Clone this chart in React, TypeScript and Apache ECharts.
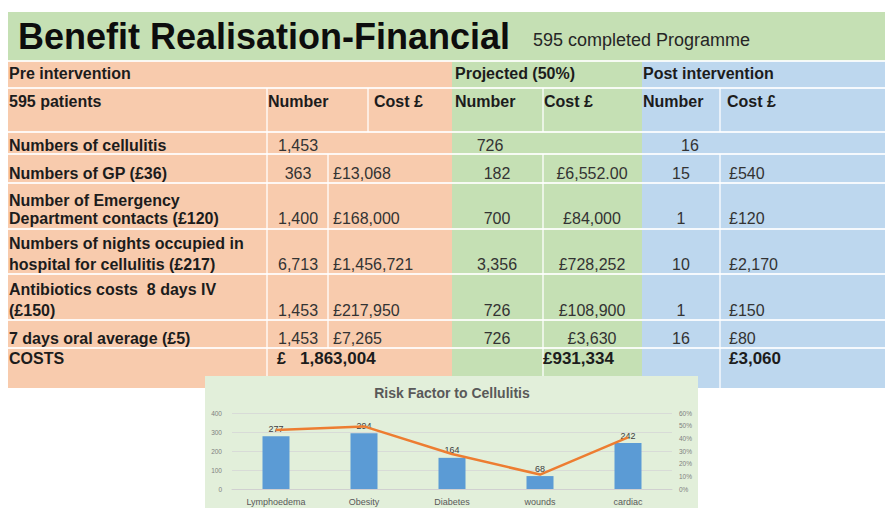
import React, { useEffect, useRef } from "react";
import * as echarts from "echarts";

// ---------- Table content ----------
const mainTitle = "Benefit Realisation-Financial";
const subTitle = "595 completed Programme";
const sectionHeaders = ["Pre intervention", "Projected (50%)", "Post intervention"];
const columnHeaders = ["595 patients", "Number", "Cost £", "Number", "Cost £", "Number", "Cost £"];
const rowLabels: string[][] = [
  ["Numbers of cellulitis"],
  ["Numbers of GP (£36)"],
  ["Number of Emergency", "Department contacts (£120)"],
  ["Numbers of nights occupied in", "hospital for cellulitis (£217)"],
  ["Antibiotics costs  8 days IV", "(£150)"],
  ["7 days oral average (£5)"],
];
const preNumbers = ["1,453", "363", "1,400", "6,713", "1,453", "1,453"];
const preCosts = ["", "£13,068", "£168,000", "£1,456,721", "£217,950", "£7,265"];
const projNumbers = ["726", "182", "700", "3,356", "726", "726"];
const projCosts = ["", "£6,552.00", "£84,000", "£728,252", "£108,900", "£3,630"];
const postNumbers = ["16", "15", "1", "10", "1", "16"];
const postCosts = ["", "£540", "£120", "£2,170", "£150", "£80"];
const totalLabel = "COSTS";
const preTotalSymbol = "£";
const preTotal = "1,863,004";
const projTotal = "£931,334";
const postTotal = "£3,060";

// ---------- Chart content ----------
const chartTitle = "Risk Factor to Cellulitis";
const riskFactors = ["Lymphoedema", "Obesity", "Diabetes", "wounds", "cardiac"];
const riskCounts = [277, 294, 164, 68, 242];
const riskShare = [0.466, 0.494, 0.276, 0.114, 0.407];
const countTicks = ["0", "100", "200", "300", "400"];
const shareTicks = ["0%", "10%", "20%", "30%", "40%", "50%", "60%"];

// ---------- Layout ----------
const FONT = "'Liberation Sans', Arial, Helvetica, sans-serif";
const ORANGE = "#f8cbad";
const GREEN = "#c5e0b4";
const BLUE = "#bdd7ee";
const CHART_BG = "#e2efda";
const LINE = "rgba(255,255,255,0.85)";

const TABLE_LEFT = 8;
const TABLE_RIGHT = 885;
const PROJ_X = 452;
const POST_X = 642;
const HEAD1_TOP = 61;
const HEAD2_TOP = 88;
const rowTops = [132, 154, 183, 229, 274, 320, 348];
const TABLE_BOTTOM = 388;
const labelLineY: number[][] = [[145], [173], [200, 218], [243, 264], [289, 310], [338]];
const valueY = [145, 173, 218, 264, 310, 338];
const TOTAL_Y = 358;

function txt(x: number, y: number, text: string, opts: any = {}) {
  return {
    type: "text",
    x,
    y,
    z: opts.z ?? 2,
    silent: true,
    style: {
      text,
      fill: opts.fill ?? "#1c1c1c",
      font: `${opts.bold ? "bold " : ""}${opts.size ?? 16}px ${FONT}`,
      align: opts.align ?? "left",
      verticalAlign: "middle",
    },
  };
}

function rect(x: number, y: number, w: number, h: number, fill: string, z = 0) {
  return { type: "rect", z, silent: true, shape: { x, y, width: w, height: h }, style: { fill } };
}

function vline(x: number, y1: number, y2: number) {
  return { type: "line", z: 1, silent: true, shape: { x1: x, y1, x2: x, y2 }, style: { stroke: LINE, lineWidth: 1.5 } };
}

function hline(y: number) {
  return {
    type: "line",
    z: 1,
    silent: true,
    shape: { x1: TABLE_LEFT, y1: y, x2: TABLE_RIGHT, y2: y },
    style: { stroke: LINE, lineWidth: 2 },
  };
}

function buildGraphic() {
  const els: any[] = [];
  // backgrounds
  els.push(rect(TABLE_LEFT, 12, TABLE_RIGHT - TABLE_LEFT, HEAD1_TOP - 12, GREEN));
  els.push(rect(TABLE_LEFT, HEAD1_TOP, PROJ_X - TABLE_LEFT, TABLE_BOTTOM - HEAD1_TOP, ORANGE));
  els.push(rect(PROJ_X, HEAD1_TOP, POST_X - PROJ_X, TABLE_BOTTOM - HEAD1_TOP, GREEN));
  els.push(rect(POST_X, HEAD1_TOP, TABLE_RIGHT - POST_X, TABLE_BOTTOM - HEAD1_TOP, BLUE));

  // horizontal separators
  [HEAD1_TOP, HEAD2_TOP, ...rowTops].forEach((y) => els.push(hline(y)));

  // vertical separators
  [267, 368, 543, 720].forEach((x) => els.push(vline(x, HEAD2_TOP, rowTops[0])));
  els.push(vline(267, rowTops[0], rowTops[1]));
  [267, 328, 543, 720].forEach((x) => els.push(vline(x, rowTops[1], rowTops[6])));
  [267, 543, 720].forEach((x) => els.push(vline(x, rowTops[6], TABLE_BOTTOM)));

  // title
  els.push(txt(18, 36, mainTitle, { bold: true, size: 36, fill: "#0d0d0d" }));
  els.push(txt(533, 40, subTitle, { size: 18, fill: "#262626" }));

  // section headers
  const secX = [9, 455, 643];
  sectionHeaders.forEach((s, i) => els.push(txt(secX[i], 73, s, { bold: true })));

  // column headers
  const colX = [9, 268, 374, 455, 544, 643, 727];
  columnHeaders.forEach((s, i) => els.push(txt(colX[i], 101, s, { bold: true })));

  // data rows
  const numOpts = { size: 16, fill: "#333333" };
  rowLabels.forEach((lines, r) => {
    lines.forEach((line, k) => els.push(txt(9, labelLineY[r][k], line, { bold: true })));
    const y = valueY[r];
    els.push(txt(298, y, preNumbers[r], { ...numOpts, align: "center" }));
    if (preCosts[r]) els.push(txt(333, y, preCosts[r], numOpts));
    els.push(txt(r === 0 ? 490 : 497, y, projNumbers[r], { ...numOpts, align: "center" }));
    if (projCosts[r]) els.push(txt(592, y, projCosts[r], { ...numOpts, align: "center" }));
    els.push(txt(r === 0 ? 690 : 681, y, postNumbers[r], { ...numOpts, align: "center" }));
    if (postCosts[r]) els.push(txt(729, y, postCosts[r], numOpts));
  });

  // totals
  els.push(txt(9, TOTAL_Y, totalLabel, { bold: true }));
  els.push(txt(277, TOTAL_Y, preTotalSymbol, { bold: true }));
  els.push(txt(300, TOTAL_Y, preTotal, { bold: true, size: 17 }));
  els.push(txt(543, TOTAL_Y, projTotal, { bold: true, size: 17 }));
  els.push(txt(729, TOTAL_Y, postTotal, { bold: true, size: 17 }));

  // chart box
  els.push(rect(205, 376, 493, 132, CHART_BG, 3));
  els.push(txt(452, 393, chartTitle, { bold: true, size: 14, fill: "#595959", align: "center", z: 10 }));
  return els;
}

export default function App() {
  const ref = useRef<HTMLDivElement>(null);

  useEffect(() => {
    if (!ref.current) return;
    const chart = echarts.init(ref.current, undefined, { renderer: "svg" });
    chart.setOption({
      animation: false,
      backgroundColor: "#ffffff",
      textStyle: { fontFamily: FONT },
      graphic: { elements: buildGraphic() },
      grid: { left: 232, right: 213, top: 413, bottom: 19, containLabel: false },
      xAxis: {
        type: "category",
        data: riskFactors,
        z: 5,
        axisLine: { show: true, lineStyle: { color: "#d0d0d0", width: 1 } },
        axisTick: { show: false },
        axisLabel: { fontSize: 9, color: "#595959", margin: 8, fontFamily: FONT },
      },
      yAxis: [
        {
          type: "value",
          min: 0,
          max: 400,
          interval: 100,
          z: 5,
          axisLine: { show: false },
          axisTick: { show: false },
          splitLine: { show: true, lineStyle: { color: "#d6d6d6", width: 0.8 } },
          axisLabel: {
            fontSize: 6.5,
            color: "#808080",
            margin: 10,
            fontFamily: FONT,
            formatter: (_v: number, i: number) => countTicks[i],
          },
        },
        {
          type: "value",
          min: 0,
          max: 0.6,
          interval: 0.1,
          z: 5,
          axisLine: { show: false },
          axisTick: { show: false },
          splitLine: { show: false },
          axisLabel: {
            fontSize: 6.5,
            color: "#808080",
            margin: 7,
            fontFamily: FONT,
            formatter: (_v: number, i: number) => shareTicks[i],
          },
        },
      ],
      series: [
        {
          type: "bar",
          data: riskCounts,
          z: 6,
          barWidth: 27,
          itemStyle: { color: "#5b9bd5" },
          label: {
            show: true,
            position: "top",
            distance: 3,
            fontSize: 9,
            color: "#404040",
            fontFamily: FONT,
          },
        },
        {
          type: "line",
          data: riskShare,
          yAxisIndex: 1,
          z: 7,
          symbol: "none",
          showSymbol: false,
          lineStyle: { color: "#ed7d31", width: 2.5 },
          itemStyle: { color: "#ed7d31" },
        },
      ],
    });
    return () => chart.dispose();
  }, []);

  return (
    <div
      ref={ref}
      style={{ position: "absolute", left: 0, top: 0, width: 885, height: 508 }}
    />
  );
}
